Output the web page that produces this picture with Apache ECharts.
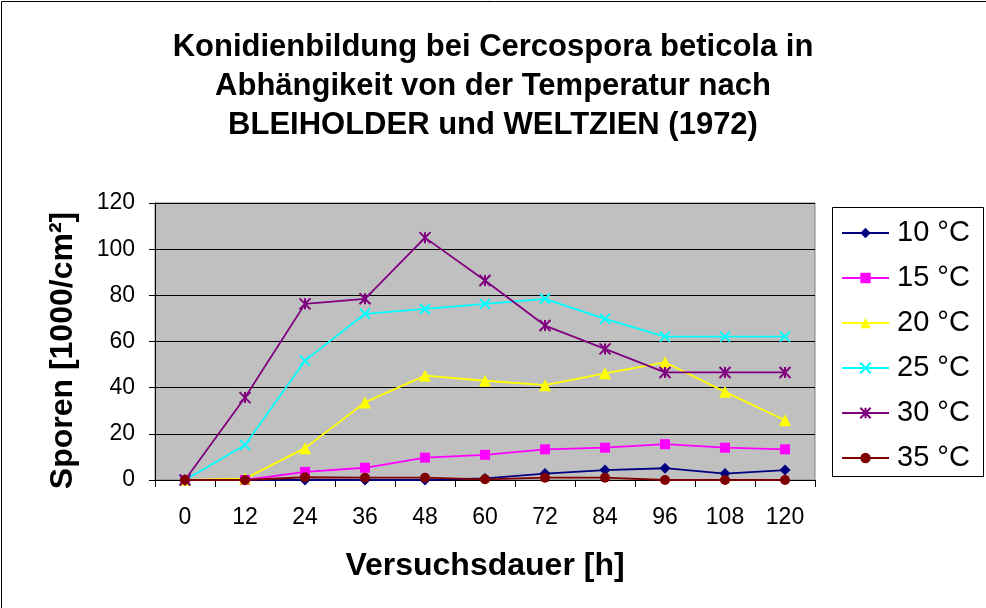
<!DOCTYPE html>
<html>
<head>
<meta charset="utf-8">
<script src="https://cdn.jsdelivr.net/npm/echarts@6/dist/echarts.min.js"></script>
<style>
html,body{margin:0;padding:0;background:#fff;}
#chart{width:986px;height:608px;}
</style>
</head>
<body>
<div id="chart"></div>
<script>
const categories = ['0','12','24','36','48','60','72','84','96','108','120'];
const yTicks = [0, 20, 40, 60, 80, 100, 120];
const seriesNames = ['10 °C','15 °C','20 °C','25 °C','30 °C','35 °C'];
const t10 = [0, 0, 0, 0, 0, 0.7, 2.8, 4.3, 5.1, 2.8, 4.3];
const t15 = [0, 0, 3.5, 5.3, 9.7, 10.9, 13.3, 14, 15.5, 14, 13.3];
const t20 = [0, 0.6, 13.8, 33.6, 45.2, 43, 41.1, 46.2, 51, 38.2, 25.9];
const t25 = [0, 15.2, 51.7, 72, 74.1, 76.3, 78.5, 69.8, 62.1, 62.1, 62.1];
const t30 = [0, 35.7, 76.3, 78.5, 105, 86.4, 66.9, 56.8, 46.6, 46.6, 46.6];
const t35 = [0, 0, 1.2, 1, 1, 0.3, 1, 1, 0, 0, 0];

const font = 'Liberation Sans, Arial, sans-serif';
const chart = echarts.init(document.getElementById('chart'), null, {renderer: 'canvas'});

function mk(name, data, color, symbol, size, extra) {
  return Object.assign({
    name: name, type: 'line', data: data,
    symbol: symbol, symbolSize: size,
    showAllSymbol: true,
    lineStyle: {color: color, width: 1.8},
    itemStyle: {color: color, borderColor: color, borderWidth: 0},
    emphasis: {disabled: true},
    animation: false
  }, extra || {});
}

const option = {
  animation: false,
  backgroundColor: '#ffffff',
  title: {
    text: 'Konidienbildung bei Cercospora beticola in\nAbhängikeit von der Temperatur nach\nBLEIHOLDER und WELTZIEN (1972)',
    left: 'center',
    top: 28,
    padding: [0, 0, 0, 18],
    textStyle: {fontFamily: font, fontSize: 31, fontWeight: 'bold', color: '#000', lineHeight: 39}
  },
  grid: {left: 155, right: 171, top: 203, bottom: 128, show: true, backgroundColor: '#C0C0C0', borderColor: '#808080', borderWidth: 1},
  legend: {
    orient: 'vertical', left: 841, top: 218, padding: 0,
    itemWidth: 47, itemHeight: 13, itemGap: 15,
    textStyle: {fontFamily: font, fontSize: 29, color: '#000', lineHeight: 30, padding: [0, 0, 0, 3]},
    data: seriesNames
  },
  graphic: [
    {type: 'rect', shape: {x: 1.5, y: 1.5, width: 1000, height: 1000}, style: {fill: 'none', stroke: '#000', lineWidth: 1}, silent: true, z: -10},
    {type: 'rect', shape: {x: 832.5, y: 207.5, width: 151, height: 269}, style: {fill: '#fff', stroke: '#000', lineWidth: 1}, silent: true, z: -5}
  ],
  xAxis: {
    type: 'category', data: categories, boundaryGap: true,
    name: 'Versuchsdauer [h]', nameLocation: 'middle', nameGap: 70,
    nameTextStyle: {fontFamily: font, fontSize: 32, fontWeight: 'bold', color: '#000'},
    axisLine: {show: true, lineStyle: {color: '#000', width: 1}},
    axisTick: {show: true, length: 7, lineStyle: {color: '#000'}},
    axisLabel: {fontFamily: font, fontSize: 23, color: '#000', margin: 26, interval: 0},
    splitLine: {show: false}
  },
  yAxis: {
    type: 'value', min: yTicks[0], max: yTicks[yTicks.length - 1], interval: 20,
    name: 'Sporen [1000/cm²]', nameLocation: 'middle', nameGap: 76,
    nameTextStyle: {fontFamily: font, fontSize: 32, fontWeight: 'bold', color: '#000', padding: [0, 18, 0, 0]},
    axisLine: {show: true, lineStyle: {color: '#000', width: 1}},
    axisTick: {show: true, length: 6, lineStyle: {color: '#000'}},
    axisLabel: {fontFamily: font, fontSize: 23, color: '#000', margin: 20},
    splitLine: {show: true, lineStyle: {color: '#000', width: 1}}
  },
  series: [
    mk(seriesNames[0], t10, '#000080', 'diamond', 11),
    mk(seriesNames[1], t15, '#FF00FF', 'rect', 10),
    mk(seriesNames[2], t20, '#FFFF00', 'triangle', 12),
    mk(seriesNames[3], t25, '#00FFFF', 'path://M0,0L10,10M10,0L0,10', 10, {itemStyle: {color: '#00FFFF', borderColor: '#00FFFF', borderWidth: 2}}),
    mk(seriesNames[4], t30, '#800080', 'path://M0,0L10,10M10,0L0,10M5,0L5,10', 11, {itemStyle: {color: '#800080', borderColor: '#800080', borderWidth: 2}}),
    mk(seriesNames[5], t35, '#800000', 'circle', 10)
  ]
};
chart.setOption(option);
</script>
</body>
</html>
